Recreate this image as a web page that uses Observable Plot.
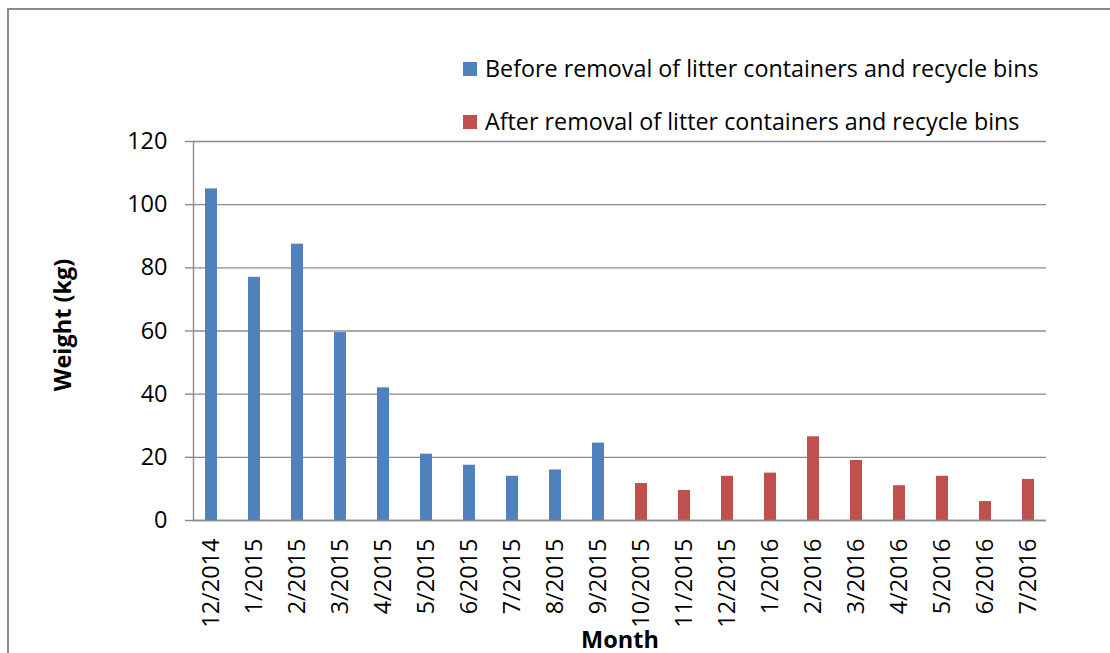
<!DOCTYPE html>
<html><head><meta charset="utf-8">
<script src="https://cdn.jsdelivr.net/npm/d3@7"></script>
<script src="https://cdn.jsdelivr.net/npm/@observablehq/plot@0.6"></script>
<style>
body{margin:0;background:#fff;}
#wrap{position:relative;width:1110px;height:653px;overflow:hidden;font-family:"Open Sans",sans-serif;background:#fff;}
#frame{position:absolute;left:7px;top:8px;width:1200px;height:800px;border-top:2px solid #8c8c8c;border-left:2px solid #8c8c8c;}
#chart{position:absolute;left:0;top:0;}
.leg{position:absolute;left:463px;display:flex;align-items:center;font-size:23.3px;color:#000;white-space:nowrap;line-height:1;}
.leg span.sw{display:inline-block;width:14px;height:14px;margin-right:8px;}
</style></head>
<body>
<div id="wrap">
  <div id="frame"></div>
  <div id="chart"></div>
  <div id="legend"></div>
</div>
<script>
const months = ["12/2014","1/2015","2/2015","3/2015","4/2015","5/2015","6/2015","7/2015","8/2015","9/2015",
                "10/2015","11/2015","12/2015","1/2016","2/2016","3/2016","4/2016","5/2016","6/2016","7/2016"];
const weights = [105, 77, 87.5, 59.5, 42, 21, 17.5, 14, 16, 24.5,
                 11.7, 9.5, 14, 15, 26.5, 19, 11, 14, 6, 13];
const seriesNames = ["Before removal of litter containers and recycle bins",
                     "After removal of litter containers and recycle bins"];
const seriesIndex = [0,0,0,0,0,0,0,0,0,0, 1,1,1,1,1,1,1,1,1,1];
const seriesColors = ["#4F81BD", "#C0504D"];
const yTicks = [0, 20, 40, 60, 80, 100, 120];

const data = months.map((m, i) => ({month: m, weight: weights[i], series: seriesNames[seriesIndex[i]]}));

const chart = Plot.plot({
  width: 1110, height: 653,
  marginLeft: 193, marginRight: 64, marginTop: 141, marginBottom: 133,
  style: {fontFamily: "Open Sans", fontSize: "23.5px", color: "#000", background: "transparent"},
  x: {domain: months, paddingInner: 0.72, paddingOuter: 0.21, label: null},
  y: {domain: [0, 120], label: null},
  color: {domain: seriesNames, range: seriesColors},
  marks: [
    Plot.gridY(yTicks, {stroke: "#8c8c8c", strokeOpacity: 1, strokeWidth: 1.4}),
    Plot.axisY(yTicks, {tickSize: 8, tickPadding: 18, stroke: "#8c8c8c", strokeWidth: 1.4, label: null, fill: "#000", fontSize: 23.5}),
    Plot.frame({anchor: "left", stroke: "#8c8c8c", strokeWidth: 1.4}),
    Plot.barY(data, {x: "month", y: "weight", fill: "series"}),
    Plot.ruleY([0], {stroke: "#8c8c8c", strokeWidth: 1.4}),
    Plot.axisX({tickRotate: -90, tickSize: 0, tickPadding: 18, label: null, fill: "#000", fontSize: 23.5}),
    Plot.text(["Month"], {frameAnchor: "bottom", textAnchor: "middle", lineAnchor: "bottom", dy: 127, fontWeight: "bold", fontSize: 23.5, fill: "#000"}),
    Plot.text(["Weight (kg)"], {frameAnchor: "left", textAnchor: "middle", lineAnchor: "middle", dx: -130, dy: -6, rotate: -90, fontWeight: "bold", fontSize: 23.5, fill: "#000"})
  ]
});
document.getElementById("chart").appendChild(chart);

const legend = document.getElementById("legend");
const legTops = [57, 110];
seriesNames.forEach((name, i) => {
  const row = document.createElement("div");
  row.className = "leg";
  row.style.top = legTops[i] + "px";
  const sw = document.createElement("span");
  sw.className = "sw";
  sw.style.background = seriesColors[i];
  row.appendChild(sw);
  row.appendChild(document.createTextNode(name));
  legend.appendChild(row);
});
</script>
</body></html>
